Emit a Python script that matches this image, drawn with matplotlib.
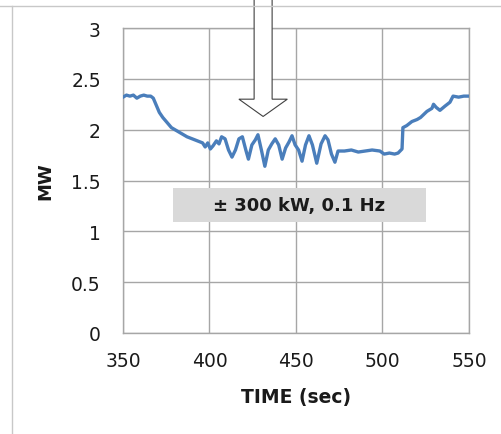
import matplotlib
matplotlib.use("Agg")
import matplotlib.pyplot as plt
from matplotlib.patches import FancyArrow, Rectangle
from matplotlib.lines import Line2D

# ---- data ----
time_s = [350, 352, 354, 356, 358, 360, 362, 364, 366, 367.5, 369, 371, 373, 375,
          378, 381, 384, 387, 390, 393, 396, 397.5, 399, 400.5, 402, 404, 405.5,
          407, 409, 411, 413, 415, 417, 419, 421, 422.5, 424.5, 426.5, 428, 430, 432,
          434, 436, 438, 440, 442, 444, 446, 447.7, 449.5, 451.5, 453.5, 455.5,
          457.5, 459.5, 462, 464.5, 466.8, 468.5, 470.5, 472.5, 474.3, 478, 482,
          486, 490, 494, 498.5, 501, 504, 507, 509, 511.3, 511.8, 514, 517, 520,
          522, 525.7, 528.6, 529.5, 531, 533.2, 536, 539, 540.8, 544, 547, 550]
power_mw = [2.32, 2.34, 2.33, 2.34, 2.31, 2.33, 2.34, 2.33, 2.33, 2.31, 2.25, 2.17, 2.12, 2.08,
            2.02, 1.99, 1.96, 1.93, 1.91, 1.89, 1.87, 1.83, 1.87, 1.81, 1.84, 1.89, 1.86,
            1.93, 1.91, 1.80, 1.73, 1.80, 1.91, 1.93, 1.80, 1.71, 1.85, 1.90, 1.95, 1.80, 1.64,
            1.80, 1.86, 1.91, 1.85, 1.71, 1.82, 1.88, 1.94, 1.85, 1.80, 1.69, 1.85,
            1.94, 1.85, 1.67, 1.86, 1.94, 1.90, 1.76, 1.68, 1.79, 1.79, 1.80,
            1.78, 1.79, 1.80, 1.79, 1.76, 1.77, 1.76, 1.77, 1.81, 2.02, 2.04, 2.08, 2.10,
            2.12, 2.18, 2.21, 2.25, 2.22, 2.19, 2.23, 2.27, 2.33, 2.32, 2.33, 2.33]

x_ticks = [350, 400, 450, 500, 550]
y_ticks = [0, 0.5, 1, 1.5, 2, 2.5, 3]
y_tick_labels = ["0", "0.5", "1", "1.5", "2", "2.5", "3"]
annotation_text = "± 300 kW, 0.1 Hz"
x_label = "TIME (sec)"
y_label = "MW"

plt.rcParams['font.family'] = ['DejaVu Sans']

fig = plt.figure(figsize=(5.01, 4.35), dpi=100)
ax = fig.add_axes([0.2455, 0.2322, 0.6906, 0.7011])

grid_c = "#a6a6a6"
ax.plot(time_s, power_mw, color="#4a7ebb", lw=2.4, zorder=3, solid_joinstyle='round')
ax.set_xlim(350, 550)
ax.set_ylim(0, 3)
ax.set_xticks(x_ticks)
ax.set_yticks(y_ticks)
ax.set_yticklabels(y_tick_labels)
ax.grid(True, color=grid_c, lw=1.0, zorder=0)
ax.set_axisbelow(True)
for sp in ax.spines.values():
    sp.set_color(grid_c)
    sp.set_linewidth(1.0)
ax.tick_params(length=0, labelsize=13.5, colors="#1a1a1a")
ax.tick_params(axis='x', pad=13)
ax.tick_params(axis='y', pad=16)
ax.set_xlabel(x_label, fontsize=13.5, fontweight='bold', labelpad=12, color="#1a1a1a")
ax.set_ylabel(y_label, fontsize=13, fontweight='bold', labelpad=12, color="#1a1a1a")

# gray annotation box with text
ax.add_patch(Rectangle((378.9, 1.091), 146.2, 0.335, facecolor="#d9d9d9",
                       edgecolor="none", zorder=2))
ax.text(452, 1.255, annotation_text, ha='center', va='center', fontsize=13,
        fontweight='bold', color="#1a1a1a", zorder=4)

# hollow arrow from the top
ax.add_patch(FancyArrow(431, 3.4, 0, -1.27, width=10.4, head_width=28,
                        head_length=0.17, length_includes_head=True,
                        facecolor="white", edgecolor="#404040", lw=0.8,
                        clip_on=False, zorder=5))

# outer frame lines
fig.add_artist(Line2D([0, 1], [1 - 7/435, 1 - 7/435], color="#c8c8c8", lw=1.0,
                      transform=fig.transFigure))
fig.add_artist(Line2D([12/501, 12/501], [0, 1 - 7/435], color="#c8c8c8", lw=1.0,
                      transform=fig.transFigure))

fig.savefig("out.png", dpi=100)
